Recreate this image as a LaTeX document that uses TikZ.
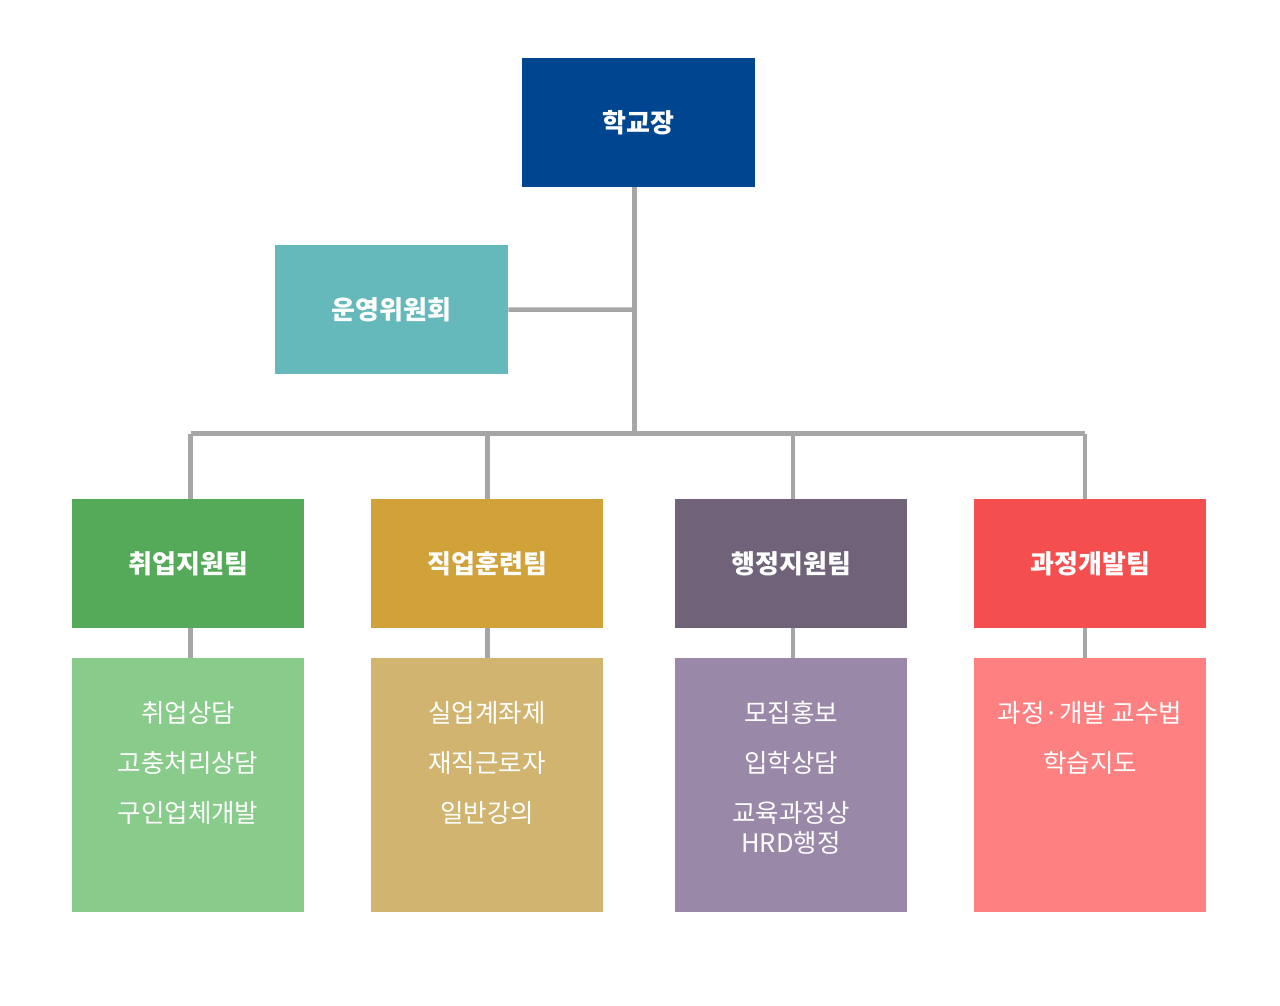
\documentclass[tikz,border=0pt]{standalone}
\usepackage{fontspec}
\setmainfont{Noto Sans CJK KR}
\begin{document}
\begin{tikzpicture}[x=1pt,y=-1pt,
  box/.style={draw=none,minimum width=232pt,minimum height=129pt,inner sep=0pt,anchor=north west},
  head/.style={box,text=white,font=\fontsize{26}{30}\selectfont\bfseries},
  detail/.style={draw=none,minimum width=232pt,minimum height=254pt,inner sep=0pt,anchor=north west},
  dtext/.style={text=white,font=\fontsize{25.5}{30}\selectfont,align=center,inner sep=0pt,anchor=center},
  conn/.style={draw={rgb,255:red,166;green,166;blue,166},line width=4.5pt}]
\definecolor{cTop}{HTML}{004590}
\definecolor{cCom}{HTML}{66B9BB}
\definecolor{cG}{HTML}{55AA5A}
\definecolor{cY}{HTML}{D1A23A}
\definecolor{cP}{HTML}{6F6279}
\definecolor{cR}{HTML}{F44E4E}
\definecolor{dG}{HTML}{88CB8A}
\definecolor{dY}{HTML}{D1B470}
\definecolor{dP}{HTML}{9988A8}
\definecolor{dR}{HTML}{FF8080}
\useasboundingbox[fill=white] (0,0) rectangle (1280,1005);

\coordinate (hub) at (634.5,433.5);
\coordinate (mid) at (634.5,309.5);
\coordinate (hl) at (190.5,433.5);
\coordinate (hr) at (1085,433.5);
\coordinate (h2) at (487.5,433.5);
\coordinate (h3) at (793,433.5);

\node[head,fill=cTop,minimum width=233pt] (top) at (522,58) {학교장};
\node[head,fill=cCom,minimum width=233pt] (com) at (275,245) {운영위원회};

\node[head,fill=cG] (t1) at (72,499) {취업지원팀};
\node[head,fill=cY] (t2) at (371,499) {직업훈련팀};
\node[head,fill=cP] (t3) at (675,499) {행정지원팀};
\node[head,fill=cR] (t4) at (974,499) {과정개발팀};

\node[detail,fill=dG] (d1) at (72,658) {};
\node[detail,fill=dY] (d2) at (371,658) {};
\node[detail,fill=dP] (d3) at (675,658) {};
\node[detail,fill=dR] (d4) at (974,658) {};

\draw[conn] (top.south -| hub) -- (hub);
\draw[conn] (com.east) -- (mid);
\draw[conn] (hl) -- (hr);
\draw[conn] (hl) -- (hl |- t1.north);
\draw[conn] (h2) -- (h2 |- t2.north);
\draw[conn] (h3) -- (h3 |- t3.north);
\draw[conn] (hr) -- (hr |- t4.north);
\draw[conn] (t1.south -| hl) -- (d1.north -| hl);
\draw[conn] (t2.south -| h2) -- (d2.north -| h2);
\draw[conn] (t3.south -| h3) -- (d3.north -| h3);
\draw[conn] (t4.south -| hr) -- (d4.north -| hr);

\node[dtext] (a1) at (188,713) {취업상담};
\node[dtext] (a2) at (188,763) {고충처리상담};
\node[dtext] (a3) at (188,813) {구인업체개발};
\node[dtext] (b1) at (487,713) {실업계좌제};
\node[dtext] (b2) at (487,763) {재직근로자};
\node[dtext] (b3) at (487,813) {일반강의};
\node[dtext] (c1) at (791,713) {모집홍보};
\node[dtext] (c2) at (791,763) {입학상담};
\node[dtext] (c3) at (791,828) {교육과정상\\HRD행정};
\node[dtext] (e1) at (1090,713) {과정·개발 교수법};
\node[dtext] (e2) at (1090,763) {학습지도};
\end{tikzpicture}
\end{document}
